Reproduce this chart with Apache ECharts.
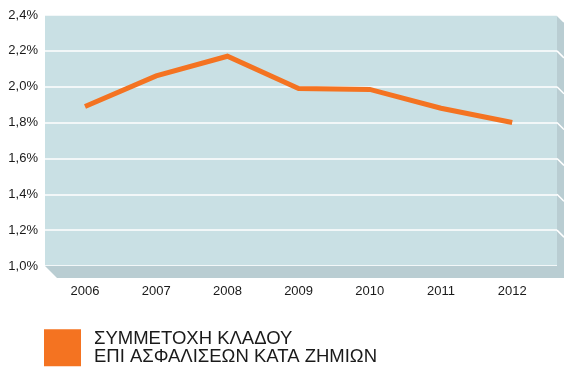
<!DOCTYPE html>
<html>
<head>
<meta charset="utf-8">
<script src="https://cdn.jsdelivr.net/npm/echarts@6/dist/echarts.min.js"></script>
<style>
  html, body { margin: 0; padding: 0; background: #ffffff; }
  #chart { width: 564px; height: 372px; }
</style>
</head>
<body>
<div id="chart"></div>
<script>
// Share of the non-life (property & casualty) branch, 2006–2012
const years = ['2006', '2007', '2008', '2009', '2010', '2011', '2012'];
const shareValues = [1.89, 2.06, 2.17, 1.99, 1.985, 1.88, 1.80];
const yTicks = [1.0, 1.2, 1.4, 1.6, 1.8, 2.0, 2.2, 2.4];
const seriesName = 'ΣΥΜΜΕΤΟΧΗ ΚΛΑΔΟΥ\nΕΠΙ ΑΣΦΑΛΙΣΕΩΝ ΚΑΤΑ ΖΗΜΙΩΝ';

const WALL = '#c9e0e4';
const FLOOR = '#b9cdd2';
const LINE = '#f47321';
const FONT = "'Liberation Sans', Arial, sans-serif";

const yMin = yTicks[0];
const yMax = yTicks[yTicks.length - 1];
const yStep = +(yTicks[1] - yTicks[0]).toFixed(2);

const chart = echarts.init(document.getElementById('chart'), null, { renderer: 'canvas' });

const option = {
  animation: false,
  backgroundColor: '#ffffff',
  grid: [
    // back wall with the value gridlines
    { left: 45, top: 15, width: 512, height: 251, show: true,
      backgroundColor: WALL, borderWidth: 0, z: 0 },
    // plotting area for the yearly categories
    { left: 49.4, top: 15, width: 498.4, height: 251, show: false }
  ],
  xAxis: [
    { gridIndex: 0, type: 'value', min: 0, max: 1, show: false },
    { gridIndex: 1, type: 'category', data: years, boundaryGap: true,
      axisLine: { show: false }, axisTick: { show: false },
      axisLabel: { margin: 19, fontFamily: FONT, fontSize: 13, color: '#1a1a1a' } }
  ],
  yAxis: [
    { gridIndex: 0, type: 'value', min: yMin, max: yMax, interval: yStep,
      axisLine: { show: false }, axisTick: { show: false },
      axisLabel: {
        margin: 7, fontFamily: FONT, fontSize: 13, color: '#1a1a1a',
        padding: [3, 0, 0, 0],
        formatter: v => v.toFixed(1).replace('.', ',') + '%'
      },
      splitLine: { show: true, lineStyle: { color: '#ffffff', width: 1.5 } }
    },
    { gridIndex: 1, type: 'value', min: yMin, max: yMax, interval: yStep, show: false,
      splitLine: { show: false } }
  ],
  legend: {
    left: 44, top: 329, padding: 0,
    itemWidth: 37, itemHeight: 37, itemGap: 10,
    icon: 'rect',
    textStyle: { fontFamily: FONT, fontSize: 18.5, lineHeight: 18.5, color: '#1a1a1a',
      padding: [0, 0, 0, 8] },
    data: [seriesName]
  },
  series: [
    { name: seriesName, type: 'line', xAxisIndex: 1, yAxisIndex: 1,
      data: shareValues, symbol: 'none', color: LINE,
      lineStyle: { color: LINE, width: 5, cap: 'butt', join: 'miter' }, z: 5 }
  ]
};

chart.setOption(option);

// Floor and right side wall of the box, placed from the axis scales
const yBottom = chart.convertToPixel({ yAxisIndex: 0 }, yMin);
const yTop = chart.convertToPixel({ yAxisIndex: 0 }, yMax);
const xL = chart.convertToPixel({ xAxisIndex: 0 }, 0);
const xR = chart.convertToPixel({ xAxisIndex: 0 }, 1);
const depth = 7;
const floorDepth = 12;

const graphics = [
  { type: 'polygon', silent: true, z: 1,
    shape: { points: [[xL, yBottom], [xR + depth, yBottom], [xR + depth, yBottom + floorDepth], [xL + floorDepth, yBottom + floorDepth]] },
    style: { fill: FLOOR } },
  { type: 'polygon', silent: true, z: 1,
    shape: { points: [[xR, yTop], [xR + depth, yTop + depth], [xR + depth, yBottom + floorDepth], [xR, yBottom]] },
    style: { fill: FLOOR } }
];
yTicks.slice(1).forEach(v => {
  const py = chart.convertToPixel({ yAxisIndex: 0 }, v);
  graphics.push({ type: 'line', silent: true, z: 2,
    shape: { x1: xR, y1: py, x2: xR + depth, y2: py + depth },
    style: { stroke: '#ffffff', lineWidth: 1.5 } });
});
chart.setOption({ graphic: graphics });
</script>
</body>
</html>
